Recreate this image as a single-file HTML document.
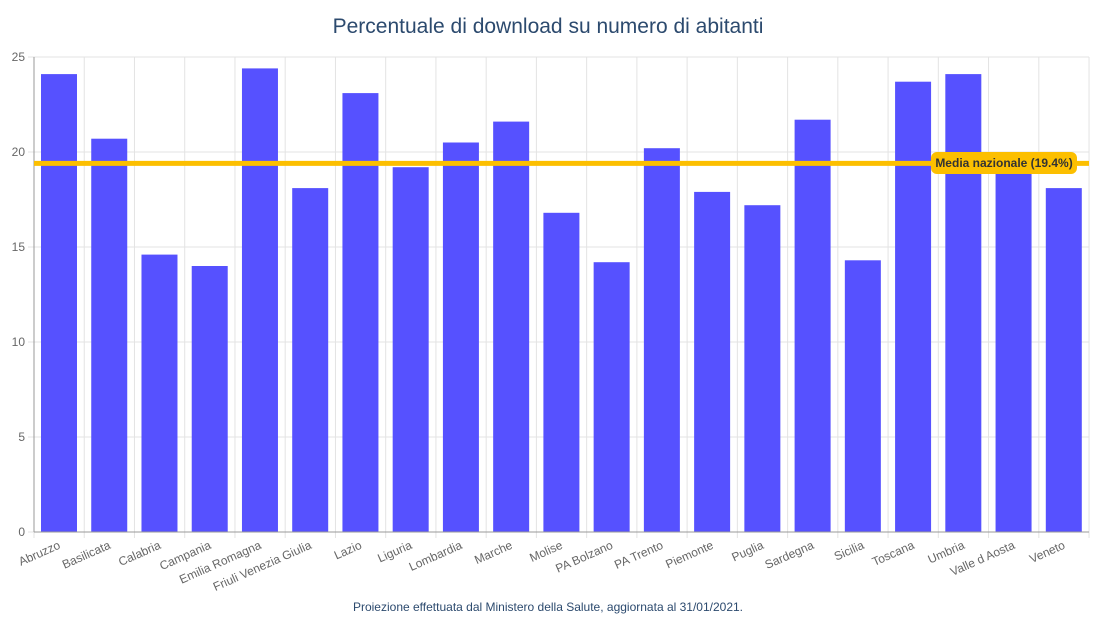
<!DOCTYPE html>
<html><head><meta charset="utf-8"><style>
body{margin:0;background:#fff;width:1102px;height:638px;overflow:hidden}
</style></head><body>
<svg width="1102" height="638" xmlns="http://www.w3.org/2000/svg" font-family="Liberation Sans, sans-serif">
<text x="548" y="33" text-anchor="middle" font-size="21" fill="#2c4a6e">Percentuale di download su numero di abitanti</text>
<g id="grid" stroke="#e3e3e3" stroke-width="1"></g>
<g id="bars" fill="#5651ff"></g>
<g id="ylab" font-size="12" fill="#666" text-anchor="end"></g>
<g id="xlab" font-size="12" fill="#666" text-anchor="end"></g>
<line x1="34" y1="57" x2="34" y2="532" stroke="#999"/>
<line x1="34" y1="532" x2="1089" y2="532" stroke="#999"/>
<line x1="34" y1="163.4" x2="1089" y2="163.4" stroke="#fcbf00" stroke-width="5"/>
<rect x="931" y="152" width="146" height="22" rx="6" fill="#fcbf00"/>
<text x="1004" y="167" text-anchor="middle" font-size="12" font-weight="bold" fill="#333">Media nazionale (19.4%)</text>
<text x="548" y="611" text-anchor="middle" font-size="12" fill="#2c4a6e">Proiezione effettuata dal Ministero della Salute, aggiornata al 31/01/2021.</text>
</svg>
<script>
const names=["Abruzzo","Basilicata","Calabria","Campania","Emilia Romagna","Friuli Venezia Giulia","Lazio","Liguria","Lombardia","Marche","Molise","PA Bolzano","PA Trento","Piemonte","Puglia","Sardegna","Sicilia","Toscana","Umbria","Valle d Aosta","Veneto"];
const vals=[24.1,20.7,14.6,14.0,24.4,18.1,23.1,19.2,20.5,21.6,16.8,14.2,20.2,17.9,17.2,21.7,14.3,23.7,24.1,19.2,18.1];
const ns="http://www.w3.org/2000/svg";
function el(t,a,p,txt){const e=document.createElementNS(ns,t);for(const k in a)e.setAttribute(k,a[k]);if(txt)e.textContent=txt;document.getElementById(p).appendChild(e);}
const L=34,W=50.24,Y0=532,S=19;
for(let i=0;i<=21;i++){const x=L+i*W;el("line",{x1:x,y1:57,x2:x,y2:538},"grid");}
for(let v=0;v<=25;v+=5){const y=Y0-v*S;el("line",{x1:28,y1:y,x2:1089,y2:y},"grid");el("text",{x:25,y:y+4},"ylab",String(v));}
names.forEach((n,i)=>{const x=L+i*W;const h=vals[i]*S;el("rect",{x:x+7,y:Y0-h,width:36,height:h},"bars");
const cx=x+W/2+2;el("text",{x:cx,y:548,transform:`rotate(-24 ${cx} 548)`},"xlab",n);});
</script>
</body></html>
